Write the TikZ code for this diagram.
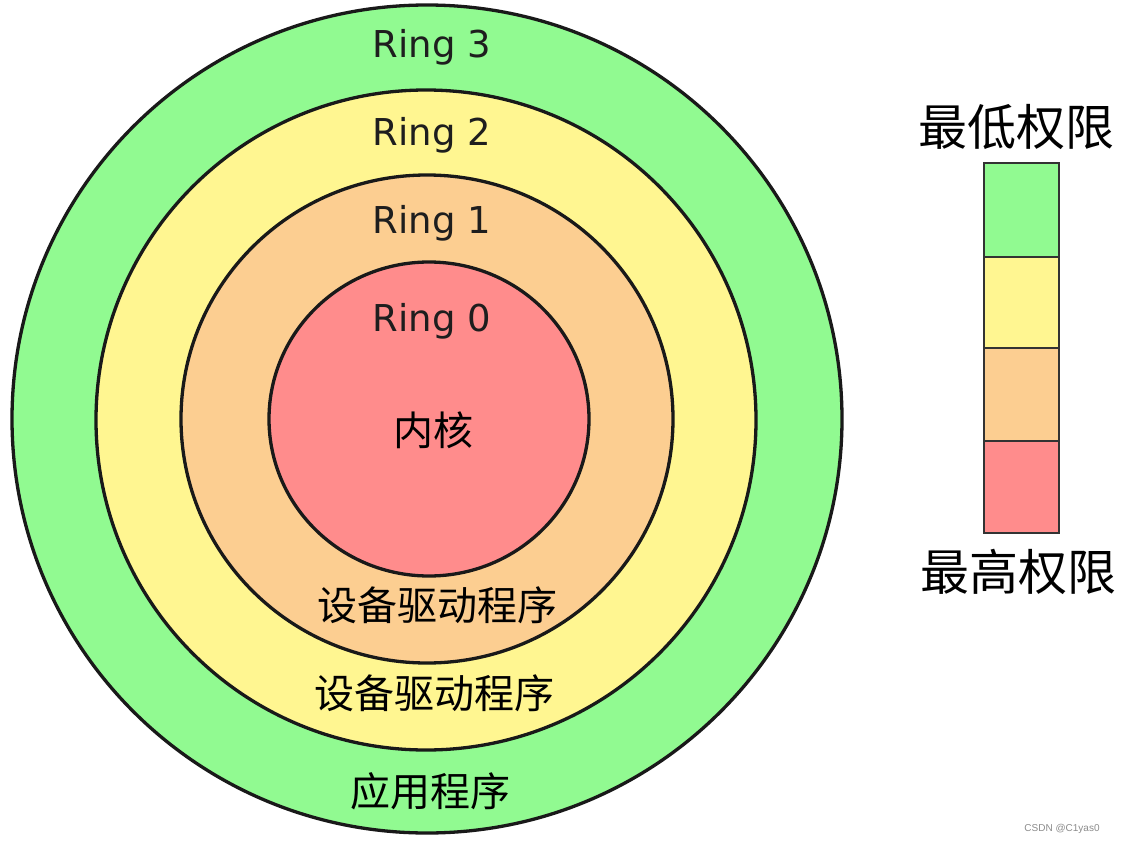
\documentclass[tikz,border=0pt]{standalone}
\usepackage{fontspec}
\newfontfamily\cjk{Noto Sans CJK SC}
\newfontfamily\dejavu{DejaVu Sans}
\newfontfamily\wmfont{Liberation Sans}
\definecolor{rgreen}{RGB}{145,250,145}
\definecolor{ryellow}{RGB}{255,246,145}
\definecolor{rorange}{RGB}{252,206,145}
\definecolor{rred}{RGB}{255,140,140}
\definecolor{txt}{RGB}{30,30,30}
\tikzset{
  ring/.style={draw=black!90, line width=3.3pt},
  lbox/.style={draw=black!80, line width=2pt},
  ringlabel/.style={anchor=base, inner sep=0pt, text=txt, font=\dejavu\fontsize{37}{40}\selectfont},
  cjklabel/.style={anchor=base, inner sep=0pt, text=black, font=\cjk\fontsize{40}{44}\selectfont},
  leglabel/.style={anchor=base, inner sep=0pt, text=black, font=\cjk\fontsize{49}{53}\selectfont},
}
\begin{document}
\begin{tikzpicture}[x=1pt,y=-1pt]
\useasboundingbox (0,0) rectangle (1122,843);
\fill[white] (0,0) rectangle (1122,843);
% rings
\path[ring, fill=rgreen]  (427,419) ellipse [x radius=415, y radius=414];
\path[ring, fill=ryellow] (426,420) ellipse [x radius=330, y radius=330];
\path[ring, fill=rorange] (427,419) ellipse [x radius=246, y radius=244];
\path[ring, fill=rred]    (429,419) ellipse [x radius=160, y radius=157];
% ring labels
\node[ringlabel] (r3) at (432,58)  {Ring 3};
\node[ringlabel] (r2) at (432,145) {Ring 2};
\node[ringlabel] (r1) at (432,233) {Ring 1};
\node[ringlabel] (r0) at (432,331) {Ring 0};
\node[cjklabel] (kernel) at (433,445) {内核};
\node[cjklabel] (drv1) at (437,620) {设备驱动程序};
\node[cjklabel] (drv2) at (434,708) {设备驱动程序};
\node[cjklabel] (app) at (430,806) {应用程序};
% legend
\path[lbox, fill=rgreen]  (984,163) rectangle (1059,257);
\path[lbox, fill=ryellow] (984,257) rectangle (1059,348);
\path[lbox, fill=rorange] (984,348) rectangle (1059,441);
\path[lbox, fill=rred]    (984,441) rectangle (1059,533);
\node[leglabel] (low) at (1016,145) {最低权限};
\node[leglabel] (high) at (1018,590) {最高权限};
% watermark
\node[anchor=base, inner sep=0pt, text=black!45, font=\wmfont\fontsize{10}{12}\selectfont] (wm) at (1062,831) {CSDN @C1yas0};
\end{tikzpicture}
\end{document}
